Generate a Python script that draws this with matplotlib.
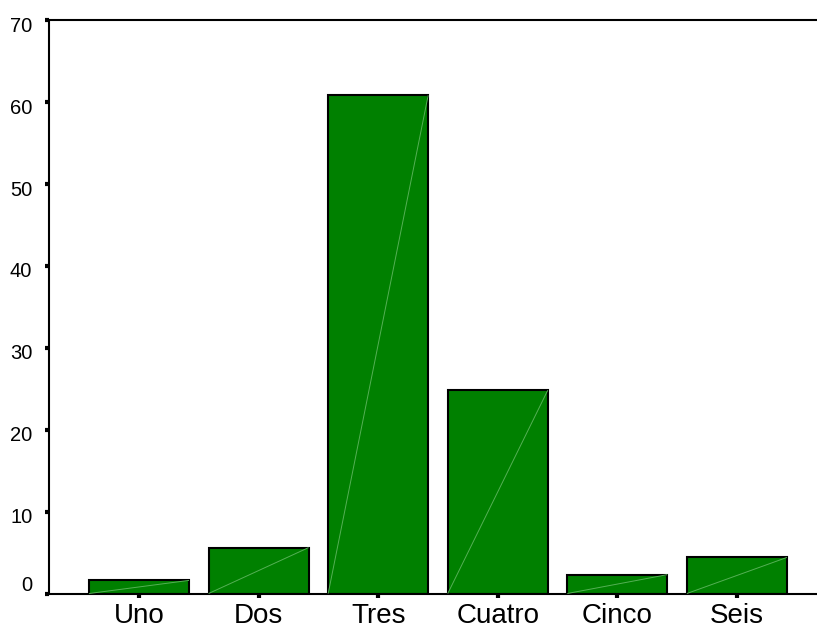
import matplotlib
matplotlib.use("Agg")
import matplotlib.pyplot as plt
import matplotlib.transforms as mtransforms
import numpy as np

categories = ["Uno", "Dos", "Tres", "Cuatro", "Cinco", "Seis"]
values = [1.6, 5.6, 60.8, 24.8, 2.3, 4.4]
yticks = [0, 10, 20, 30, 40, 50, 60, 70]

plt.rcParams['font.family'] = ['Liberation Sans', 'DejaVu Sans']

fig = plt.figure(figsize=(8.17, 6.31), dpi=100)
ax = fig.add_axes([49/817, 37.5/631, 1 - 49/817, (593.5-20)/631])

x = np.arange(len(categories))
width = 0.836
bars = ax.bar(x, values, width=width, color='#008000', edgecolor='black',
              linewidth=1.5, zorder=2)
for xi, v in zip(x, values):
    ax.plot([xi - width/2, xi + width/2], [0, v], color='#55b055',
            lw=0.7, zorder=3, solid_capstyle='butt')

ax.set_xlim(-0.753, 5.67)
ax.set_ylim(0, 70)
ax.set_xticks(x)
ax.set_xticklabels(categories, fontsize=20)
ax.set_yticks(yticks)
ax.set_yticklabels([str(t) for t in yticks], fontsize=14.5)

for s in ['left', 'bottom', 'top']:
    ax.spines[s].set_linewidth(1.5)
ax.spines['right'].set_visible(False)

ax.tick_params(axis='both', direction='out', length=3, width=3, color='black')
ax.tick_params(axis='x', pad=4)
ax.tick_params(axis='y', pad=9)

for t, lab in zip(yticks, ax.get_yticklabels()):
    dy = 7 if t == 0 else -3
    lab.set_transform(lab.get_transform() +
                      mtransforms.ScaledTranslation(0, dy/72, fig.dpi_scale_trans))

fig.savefig("out.png", dpi=100)
